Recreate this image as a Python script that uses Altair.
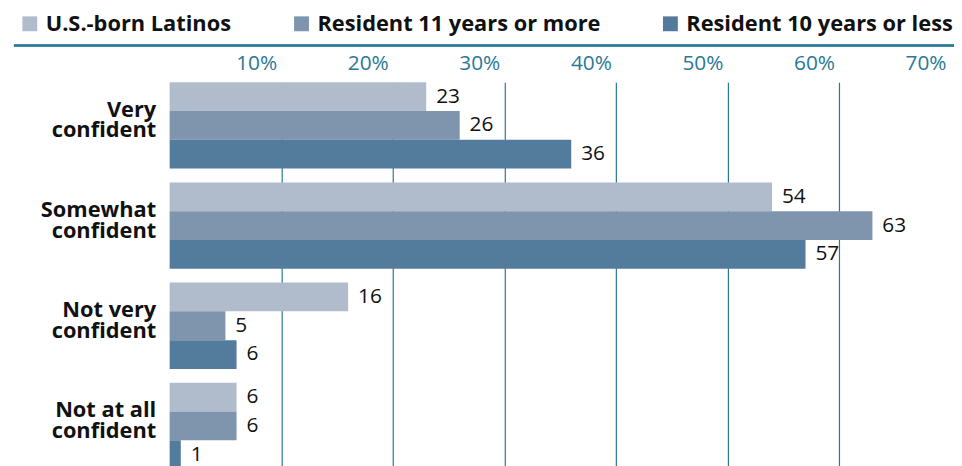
import altair as alt
import pandas as pd

categories = ["Very confident", "Somewhat confident", "Not very confident", "Not at all confident"]
series = ["U.S.-born Latinos", "Resident 11 years or more", "Resident 10 years or less"]
us_born = [23, 54, 16, 6]
res_11_more = [26, 63, 5, 6]
res_10_less = [36, 57, 6, 1]
tick_values = [10, 20, 30, 40, 50, 60, 70]
tick_labels = ["10%", "20%", "30%", "40%", "50%", "60%", "70%"]
colors = ["#b0bccb", "#7f94ad", "#537b9b"]

rows = []
for s, vals in zip(series, [us_born, res_11_more, res_10_less]):
    for c, v in zip(categories, vals):
        rows.append({"category": c, "series": s, "value": v})
df = pd.DataFrame(rows)
ticks_df = pd.DataFrame({"tick": tick_values, "label": tick_labels})

FONT = "Open Sans"
TEAL = "#2a7897"
W = 784
H = 422
PX_PER_UNIT = 11.25
XMAX = W / PX_PER_UNIT

label_expr = ("datum.label == 'Very confident' ? ['Very','confident'] : "
              "datum.label == 'Somewhat confident' ? ['Somewhat','confident'] : "
              "datum.label == 'Not very confident' ? ['Not very','confident'] : ['Not at all','confident']")

xscale = alt.Scale(domain=[0, XMAX], nice=False, zero=True)
yscale = alt.Scale(domain=categories, range=[37, 427], paddingInner=14 / 101, paddingOuter=0)

base = alt.Chart(df)

bars = base.mark_bar(clip=False).encode(
    x=alt.X("value:Q", scale=xscale,
            axis=alt.Axis(orient="top", values=tick_values, grid=True, gridColor=TEAL, gridWidth=1.2,
                          labels=False, ticks=False, domain=False, title=None)),
    y=alt.Y("category:N", scale=yscale, sort=categories,
            axis=alt.Axis(title=None, ticks=False, domain=False, labelExpr=label_expr,
                          labelFont=FONT, labelFontSize=22, labelFontWeight="bold", labelColor="#111111",
                          labelPadding=14, labelLineHeight=21, labelAlign="right", labelBaseline="middle",
                          labelOffset=-16)),
    yOffset=alt.YOffset("series:N", sort=series, scale=alt.Scale(paddingInner=0, paddingOuter=0)),
    color=alt.Color("series:N", sort=series, scale=alt.Scale(domain=series, range=colors),
                    legend=alt.Legend(orient="none", direction="horizontal", legendX=-152, legendY=-33,
                                      title=None, symbolType="square", symbolSize=225, symbolStrokeWidth=0,
                                      symbolOpacity=1, labelFont=FONT, labelFontSize=22, labelFontWeight="bold",
                                      labelColor="#111111", labelOffset=5, columnPadding=59,
                                      labelLimit=400)),
)

value_text = base.mark_text(align="left", baseline="middle", dx=10, font=FONT, fontSize=21, color="#111111").encode(
    x=alt.X("value:Q", scale=xscale),
    y=alt.Y("category:N", scale=yscale, sort=categories),
    yOffset=alt.YOffset("series:N", sort=series),
    text=alt.Text("value:Q"),
)

tick_text = alt.Chart(ticks_df).mark_text(align="right", baseline="middle", dx=-4, font=FONT, fontSize=21,
                                          color=TEAL).encode(
    x=alt.X("tick:Q", scale=xscale),
    y=alt.value(19),
    text="label:N",
)

top_line = alt.Chart(ticks_df).mark_rule(color=TEAL, strokeWidth=1.5).encode(
    x=alt.value(-157), x2=alt.value(W + 8), y=alt.value(0)
)

chart = alt.layer(bars, value_text, tick_text, top_line).properties(
    width=W, height=H,
    autosize=alt.AutoSizeParams(type="none"),
    padding={"left": 163, "top": 36, "right": 7, "bottom": 0},
).configure_view(stroke=None)

chart.save("out.html", embed_options={"renderer": "svg", "actions": False})
